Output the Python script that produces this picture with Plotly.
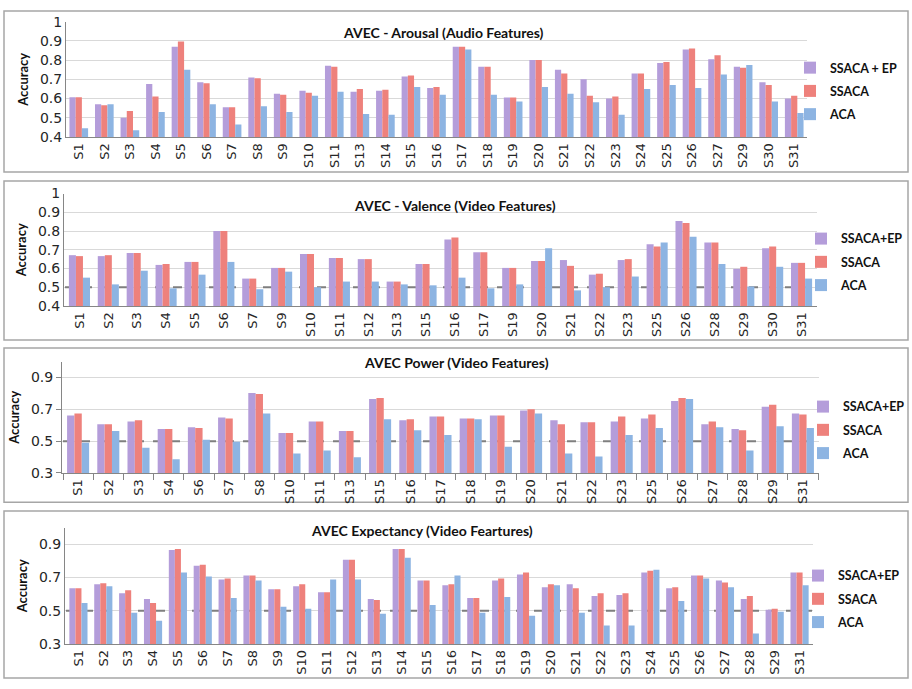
import plotly.graph_objects as go

W, H = 912, 689

# ---------------- data ----------------
series_names = ["SSACA+EP", "SSACA", "ACA"]
series_names_arousal = ["SSACA + EP", "SSACA", "ACA"]

cats_arousal = ["S1", "S2", "S3", "S4", "S5", "S6", "S7", "S8", "S9", "S10", "S11", "S13", "S14", "S15",
                "S16", "S17", "S18", "S19", "S20", "S21", "S22", "S23", "S24", "S25", "S26", "S27", "S29",
                "S30", "S31"]
arousal_ssaca_ep = [0.607, 0.57, 0.50, 0.675, 0.87, 0.685, 0.555, 0.71, 0.625, 0.64, 0.77, 0.635, 0.64, 0.715,
                    0.655, 0.87, 0.765, 0.605, 0.80, 0.75, 0.70, 0.60, 0.73, 0.785, 0.855, 0.805, 0.765,
                    0.685, 0.60]
arousal_ssaca = [0.607, 0.565, 0.535, 0.61, 0.897, 0.68, 0.555, 0.705, 0.62, 0.63, 0.765, 0.65, 0.645, 0.72,
                 0.66, 0.87, 0.765, 0.605, 0.80, 0.73, 0.615, 0.61, 0.73, 0.79, 0.86, 0.825, 0.76,
                 0.67, 0.615]
arousal_aca = [0.445, 0.57, 0.435, 0.53, 0.75, 0.57, 0.465, 0.56, 0.53, 0.615, 0.635, 0.52, 0.515, 0.66,
               0.62, 0.855, 0.62, 0.585, 0.66, 0.625, 0.58, 0.515, 0.65, 0.67, 0.655, 0.725, 0.775,
               0.585, 0.525]

cats_valence = ["S1", "S2", "S3", "S4", "S5", "S6", "S7", "S9", "S10", "S11", "S12", "S13", "S15", "S16",
                "S17", "S19", "S20", "S21", "S22", "S23", "S25", "S26", "S28", "S29", "S30", "S31"]
valence_ssaca_ep = [0.671, 0.666, 0.682, 0.619, 0.635, 0.80, 0.546, 0.603, 0.677, 0.656, 0.65, 0.53, 0.624,
                    0.755, 0.687, 0.603, 0.64, 0.645, 0.567, 0.645, 0.729, 0.854, 0.739, 0.598, 0.708, 0.63]
valence_ssaca = [0.666, 0.671, 0.682, 0.624, 0.635, 0.80, 0.546, 0.603, 0.677, 0.656, 0.65, 0.53, 0.624,
                 0.765, 0.687, 0.603, 0.64, 0.614, 0.572, 0.65, 0.718, 0.843, 0.739, 0.609, 0.718, 0.63]
valence_aca = [0.551, 0.515, 0.588, 0.494, 0.567, 0.635, 0.489, 0.583, 0.50, 0.53, 0.53, 0.515, 0.51,
               0.551, 0.494, 0.515, 0.708, 0.483, 0.50, 0.557, 0.739, 0.77, 0.624, 0.504, 0.609, 0.546]

cats_power = ["S1", "S2", "S3", "S4", "S6", "S7", "S8", "S10", "S11", "S13", "S15", "S16", "S17", "S18",
              "S19", "S20", "S21", "S22", "S23", "S25", "S26", "S27", "S28", "S29", "S31"]
power_ssaca_ep = [0.661, 0.606, 0.624, 0.576, 0.588, 0.649, 0.802, 0.551, 0.624, 0.563, 0.765, 0.631, 0.655,
                  0.643, 0.661, 0.692, 0.631, 0.618, 0.624, 0.643, 0.753, 0.606, 0.576, 0.716, 0.673]
power_ssaca = [0.673, 0.606, 0.631, 0.576, 0.582, 0.643, 0.796, 0.551, 0.624, 0.563, 0.771, 0.637, 0.655,
               0.643, 0.661, 0.70, 0.606, 0.618, 0.655, 0.667, 0.771, 0.624, 0.569, 0.729, 0.667]
power_aca = [0.49, 0.563, 0.459, 0.386, 0.508, 0.496, 0.673, 0.422, 0.441, 0.398, 0.637, 0.569, 0.539,
             0.637, 0.465, 0.673, 0.422, 0.404, 0.539, 0.582, 0.765, 0.588, 0.441, 0.594, 0.582]

cats_expectancy = ["S1", "S2", "S3", "S4", "S5", "S6", "S7", "S8", "S9", "S10", "S11", "S12", "S13", "S14",
                   "S15", "S16", "S17", "S18", "S19", "S20", "S21", "S22", "S23", "S24", "S25", "S26", "S27",
                   "S28", "S29", "S31"]
expectancy_ssaca_ep = [0.635, 0.659, 0.605, 0.57, 0.865, 0.771, 0.688, 0.712, 0.629, 0.647, 0.611, 0.806,
                       0.57, 0.871, 0.682, 0.653, 0.576, 0.682, 0.718, 0.641, 0.659, 0.588, 0.594, 0.73,
                       0.635, 0.712, 0.682, 0.57, 0.505, 0.73]
expectancy_ssaca = [0.635, 0.665, 0.623, 0.546, 0.871, 0.777, 0.694, 0.712, 0.629, 0.659, 0.611, 0.806,
                    0.564, 0.871, 0.682, 0.659, 0.576, 0.694, 0.73, 0.659, 0.635, 0.605, 0.605, 0.741,
                    0.641, 0.712, 0.67, 0.588, 0.511, 0.73]
expectancy_aca = [0.546, 0.647, 0.487, 0.44, 0.73, 0.706, 0.576, 0.682, 0.523, 0.511, 0.688, 0.688,
                  0.481, 0.818, 0.534, 0.712, 0.487, 0.582, 0.469, 0.653, 0.487, 0.41, 0.41, 0.747,
                  0.558, 0.694, 0.641, 0.363, 0.493, 0.653]

titles = ["AVEC - Arousal (Audio Features)", "AVEC - Valence (Video Features)",
          "AVEC Power (Video Features)", "AVEC Expectancy (Video Feartures)"]

# ---------------- styling ----------------
colors = ["#B49DDA", "#EE817C", "#8DB4E2"]
FONT = "Lato, 'Open Sans', sans-serif"
TICKFONT = "'DejaVu Sans', sans-serif"
AX = "#868686"
GRID = "#D9D9D9"


def px(x):
    return x / W


def py(y):
    return 1 - y / H


panels = [
    dict(cats=cats_arousal, vals=[arousal_ssaca_ep, arousal_ssaca, arousal_aca], names=series_names_arousal,
         x=(66, 807), y=(14, 132), yr=[0.4, 1.0], tv=[0.4, 0.5, 0.6, 0.7, 0.8, 0.9, 1.0],
         box=(4, 3, 908, 168), title_xy=(443, 25), leg=(790, 85), chance=False, ticks=False),
    dict(cats=cats_valence, vals=[valence_ssaca_ep, valence_ssaca, valence_aca], names=series_names,
         x=(64, 817), y=(190, 305), yr=[0.4, 1.0], tv=[0.4, 0.5, 0.6, 0.7, 0.8, 0.9, 1.0],
         box=(4, 177, 908, 340), title_xy=(455, 202), leg=(801, 260), chance=True, ticks=False),
    dict(cats=cats_power, vals=[power_ssaca_ep, power_ssaca, power_aca], names=series_names,
         x=(62, 819), y=(362, 476), yr=[0.3, 1.0], tv=[0.3, 0.5, 0.7, 0.9],
         box=(4, 348, 908, 506), title_xy=(456, 363), leg=(803, 432), chance=True, ticks=True),
    dict(cats=cats_expectancy, vals=[expectancy_ssaca_ep, expectancy_ssaca, expectancy_aca], names=series_names,
         x=(65, 813), y=(532, 651), yr=[0.3, 1.0], tv=[0.3, 0.5, 0.7, 0.9],
         box=(4, 515, 908, 686), title_xy=(422, 535), leg=(798, 605), chance=True, ticks=False),
]

fig = go.Figure()
layout = dict(width=W, height=H, margin=dict(l=0, r=0, t=0, b=0),
              paper_bgcolor="white", plot_bgcolor="white", barmode="group",
              bargap=0.27, bargroupgap=0.0, font=dict(family=FONT, color="#262626"),
              annotations=[])
box_shapes = []
chance_shapes = []

for i, p in enumerate(panels):
    n = i + 1
    sfx = "" if n == 1 else str(n)
    xa, ya = "x" + sfx, "y" + sfx
    legname = "legend" + sfx
    for j in range(3):
        fig.add_trace(go.Bar(
            x=p["cats"], y=p["vals"][j], name=p["names"][j], xaxis=xa, yaxis=ya,
            marker=dict(color=colors[j], line=dict(width=0)),
            legend=legname, legendgroup=f"p{n}s{j}", showlegend=True,
        ))
    layout["xaxis" + sfx] = dict(
        domain=[px(p["x"][0]), px(p["x"][1])], anchor=ya, type="category",
        categoryorder="array", categoryarray=p["cats"],
        showline=True, linecolor=AX, linewidth=1, showgrid=False, zeroline=False,
        tickangle=-90, tickfont=dict(size=13, family=TICKFONT, color="#262626"),
        ticks="outside" if p["ticks"] else "", tickson="boundaries", ticklen=6, tickcolor=AX,
    )
    layout["yaxis" + sfx] = dict(
        domain=[py(p["y"][1]), py(p["y"][0])], anchor=xa, range=p["yr"], tickvals=p["tv"],
        ticktext=[("1" if v == 1.0 else f"{v:.1f}") for v in p["tv"]],
        showline=True, linecolor=AX, linewidth=1, showgrid=True, gridcolor=GRID, gridwidth=1,
        zeroline=False, tickfont=dict(size=14, family=TICKFONT, color="#262626"),
        ticks="outside" if p["ticks"] else "", ticklen=5, tickcolor=AX,
        title=dict(text="<b>Accuracy</b>", font=dict(size=13, family=FONT, color="#111"), standoff=8),
    )
    layout[legname] = dict(
        x=px(p["leg"][0]), y=py(p["leg"][1]), xanchor="left", yanchor="middle",
        bgcolor="rgba(0,0,0,0)", font=dict(size=12.5, family=FONT, color="#111", weight="bold"),
        traceorder="grouped", tracegroupgap=4, itemwidth=30,
    )
    b = p["box"]
    box_shapes.append(dict(type="rect", xref="paper", yref="paper",
                           x0=px(b[0]), x1=px(b[2]), y0=py(b[3]), y1=py(b[1]),
                           line=dict(color="#A6A6A6", width=1.5), layer="below"))
    if p["chance"]:
        chance_shapes.append(dict(type="line", xref=xa, yref=ya, x0=-0.5, x1=len(p["cats"]) - 0.5,
                                  y0=0.5, y1=0.5,
                                  line=dict(color="#7F7F7F", width=2, dash="dash"), layer="between"))
    layout["annotations"].append(dict(text="<b>" + titles[i] + "</b>", xref="paper", yref="paper",
                                      x=px(p["title_xy"][0]), y=py(p["title_xy"][1]),
                                      xanchor="center", yanchor="middle", showarrow=False,
                                      font=dict(size=14, family=FONT, color="#111")))

layout["shapes"] = box_shapes + chance_shapes
fig.update_layout(**layout)
fig.write_html("out.html", config={"displayModeBar": False})

# remove the browser's default page margin so the figure sits at the window origin
with open("out.html", "r", encoding="utf-8") as f:
    html = f.read()
html = html.replace("<head>", "<head><style>html,body{margin:0;padding:0;overflow:hidden;}</style>", 1)
with open("out.html", "w", encoding="utf-8") as f:
    f.write(html)
